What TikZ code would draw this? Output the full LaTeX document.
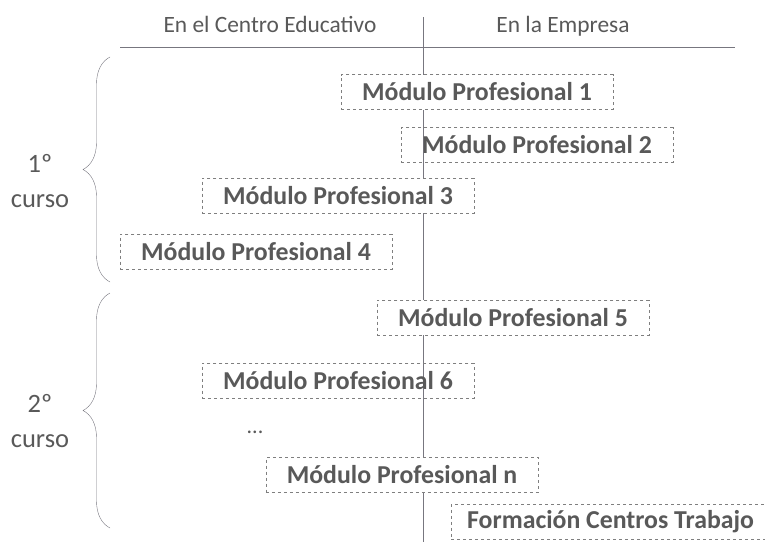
\documentclass[tikz,border=0pt]{standalone}
\usepackage{fontspec}
\setmainfont{Carlito}
\usetikzlibrary{positioning,decorations.pathreplacing}
\definecolor{texto}{HTML}{595959}
\definecolor{linea}{HTML}{77767F}
\definecolor{borde}{HTML}{7F7F7F}
\tikzset{
	modulo/.style={draw=borde, dashed, text=texto, inner xsep=21pt, inner ysep=0pt,
		minimum height=35pt, font=\bfseries\fontsize{25.8}{30}\selectfont},
	tapa/.style={modulo, fill=white},
	cabecera/.style={text=texto, anchor=base, font=\fontsize{23.4}{28}\selectfont},
	curso/.style={text=texto, align=center, anchor=base, font=\fontsize{26.5}{35}\selectfont},
	llave/.style={draw=linea, decorate, decoration={brace, amplitude=27pt}}
}

\begin{document}
\begin{tikzpicture}[x=1pt, y=-1pt]
	\useasboundingbox (0,0) rectangle (765,541);

	\node [cabecera] (centro) at (270,32) {En el Centro Educativo};
	\node [cabecera] (empresa) at (563,32) {En la Empresa};

	\coordinate (arriba) at (423,17);
	\coordinate (abajo) at (423,545);
	\coordinate (izq) at (120,47);
	\coordinate (der) at (735,47);

	\draw [linea, thick] (izq) -- (der);
	\draw [linea] (arriba) -- (abajo);

	\node [tapa] (m1) at (477,92) {Módulo Profesional 1};
	\node [modulo] (m2) at (537,145) {Módulo Profesional 2};
	\node [tapa] (m3) at (338,195.5) {Módulo Profesional 3};
	\node [modulo] (m4) at (256,251.5) {Módulo Profesional 4};
	\node [tapa] (m5) at (513,317.5) {Módulo Profesional 5};
	\node [modulo] (m6) at (338,380.5) {Módulo Profesional 6};
	\node [text=texto, font=\fontsize{22}{24}\selectfont] (puntos) at (255,432) {...};
	\node [tapa] (mn) at (402,475) {Módulo Profesional n};
	\node [tapa, inner xsep=16pt, anchor=west] (fct) at (451,522) {Formación Centros Trabajo};

	\coordinate (l1a) at (110,282);
	\coordinate (l1b) at (110,57);
	\coordinate (l2a) at (110,528);
	\coordinate (l2b) at (110,293);

	\draw [llave] (l1a) -- (l1b);
	\draw [llave] (l2a) -- (l2b);

	\node [curso] (curso1) at (40,207) {1º\\curso};
	\node [curso] (curso2) at (40,447) {2º\\curso};
\end{tikzpicture}
\end{document}
